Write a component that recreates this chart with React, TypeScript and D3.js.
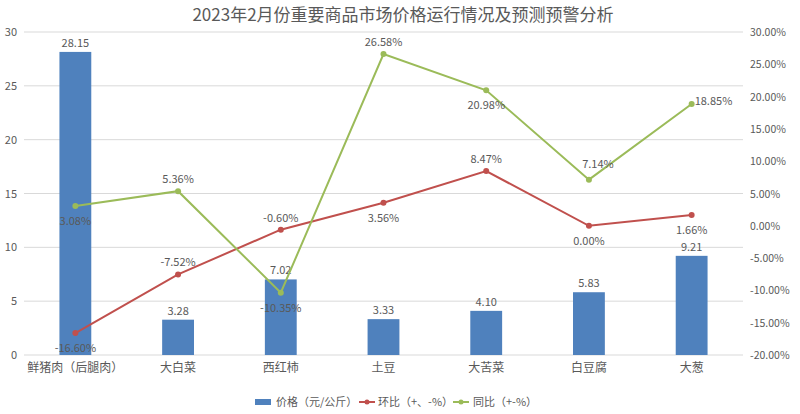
import React from "react";
import * as d3 from "d3";

const title = "2023年2月份重要商品市场价格运行情况及预测预警分析";
const categories = ["鲜猪肉（后腿肉）", "大白菜", "西红柿", "土豆", "大苦菜", "白豆腐", "大葱"];
const prices = [28.15, 3.28, 7.02, 3.33, 4.1, 5.83, 9.21];
const momPct = [-16.6, -7.52, -0.6, 3.56, 8.47, 0.0, 1.66];
const yoyPct = [3.08, 5.36, -10.35, 26.58, 20.98, 7.14, 18.85];
const leftTicks = [0, 5, 10, 15, 20, 25, 30];
const rightTicks = [-20, -15, -10, -5, 0, 5, 10, 15, 20, 25, 30];
const legendLabels = ["价格（元/公斤）", "环比（+、-%）", "同比（+-%）"];

// label placement (style)
const momPos = ["below", "above", "above", "below", "above", "below", "below"];
const yoyPos = ["below", "above", "below", "above", "below", "aboveR", "right"];

const W = 800, H = 414;
const FONT = "'Noto Sans CJK SC', 'Noto Sans', sans-serif";
const TXT = "#595959";
const BLUE = "#4F81BD", RED = "#C0504D", GREEN = "#9BBB59";

export default function App() {
  const x = d3.scaleBand<string>().domain(categories).range([24, 743]);
  const yL = d3.scaleLinear().domain([0, 30]).range([355, 32]);
  const yR = d3.scaleLinear().domain([-20, 30]).range([355, 32]);
  const cx = (c: string) => (x(c) as number) + x.bandwidth() / 2;
  const bw = x.bandwidth() * 0.31;
  const line = d3.line<number>().x((_, i) => cx(categories[i])).y((v) => yR(v));

  const lbl = (pos: string, px: number, py: number) => {
    if (pos === "above") return { x: px, y: py - 12, anchor: "middle" };
    if (pos === "below") return { x: px, y: py + 15, anchor: "middle" };
    if (pos === "aboveR") return { x: px + 9, y: py - 16, anchor: "middle" };
    return { x: px + 3, y: py - 3, anchor: "start" };
  };

  return (
    <svg width={W} height={H} style={{ position: "absolute", left: 0, top: 0, background: "#fff" }} fontFamily={FONT}>
      <rect width={W} height={H} fill="#fff" />
      <text x={403} y={21} textAnchor="middle" fontSize={17} fill={TXT}>{title}</text>
      {leftTicks.map((t) => (
        <g key={"l" + t}>
          <line x1={24} x2={743} y1={yL(t)} y2={yL(t)} stroke="#D9D9D9" strokeWidth={1} />
          <text x={17} y={yL(t) + 4} textAnchor="end" fontSize={11} fill={TXT}>{t}</text>
        </g>
      ))}
      {rightTicks.map((t) => (
        <text key={"r" + t} x={750} y={yR(t) + 4} textAnchor="start" fontSize={10.5} fill={TXT}>
          {t.toFixed(2)}%
        </text>
      ))}
      {categories.map((c, i) => (
        <g key={c}>
          <rect x={cx(c) - bw / 2} y={yL(prices[i])} width={bw} height={yL(0) - yL(prices[i])} fill={BLUE} />
          <text x={cx(c)} y={yL(prices[i]) - 5} textAnchor="middle" fontSize={11} fill={TXT}>
            {prices[i].toFixed(2)}
          </text>
          <text x={cx(c)} y={372} textAnchor="middle" fontSize={12} fill={TXT}>{c}</text>
        </g>
      ))}
      <path d={line(momPct) || ""} fill="none" stroke={RED} strokeWidth={2} />
      <path d={line(yoyPct) || ""} fill="none" stroke={GREEN} strokeWidth={2} />
      {categories.map((c, i) => {
        const a = lbl(momPos[i], cx(c), yR(momPct[i]));
        const b = lbl(yoyPos[i], cx(c), yR(yoyPct[i]));
        return (
          <g key={"p" + c}>
            <circle cx={cx(c)} cy={yR(momPct[i])} r={3} fill={RED} />
            <circle cx={cx(c)} cy={yR(yoyPct[i])} r={3} fill={GREEN} />
            <text x={a.x} y={a.y + 4} textAnchor={a.anchor as any} fontSize={11} fill={TXT}>{momPct[i].toFixed(2)}%</text>
            <text x={b.x} y={b.y + 4} textAnchor={b.anchor as any} fontSize={11} fill={TXT}>{yoyPct[i].toFixed(2)}%</text>
          </g>
        );
      })}
      <g fontSize={11} fill={TXT}>
        <rect x={255} y={399} width={16} height={6} fill={BLUE} />
        <text x={276} y={406}>{legendLabels[0]}</text>
        <line x1={359} x2={375} y1={402} y2={402} stroke={RED} strokeWidth={2} />
        <circle cx={367} cy={402} r={2.5} fill={RED} />
        <text x={378} y={406}>{legendLabels[1]}</text>
        <line x1={453} x2={469} y1={402} y2={402} stroke={GREEN} strokeWidth={2} />
        <circle cx={461} cy={402} r={2.5} fill={GREEN} />
        <text x={473} y={406}>{legendLabels[2]}</text>
      </g>
    </svg>
  );
}
